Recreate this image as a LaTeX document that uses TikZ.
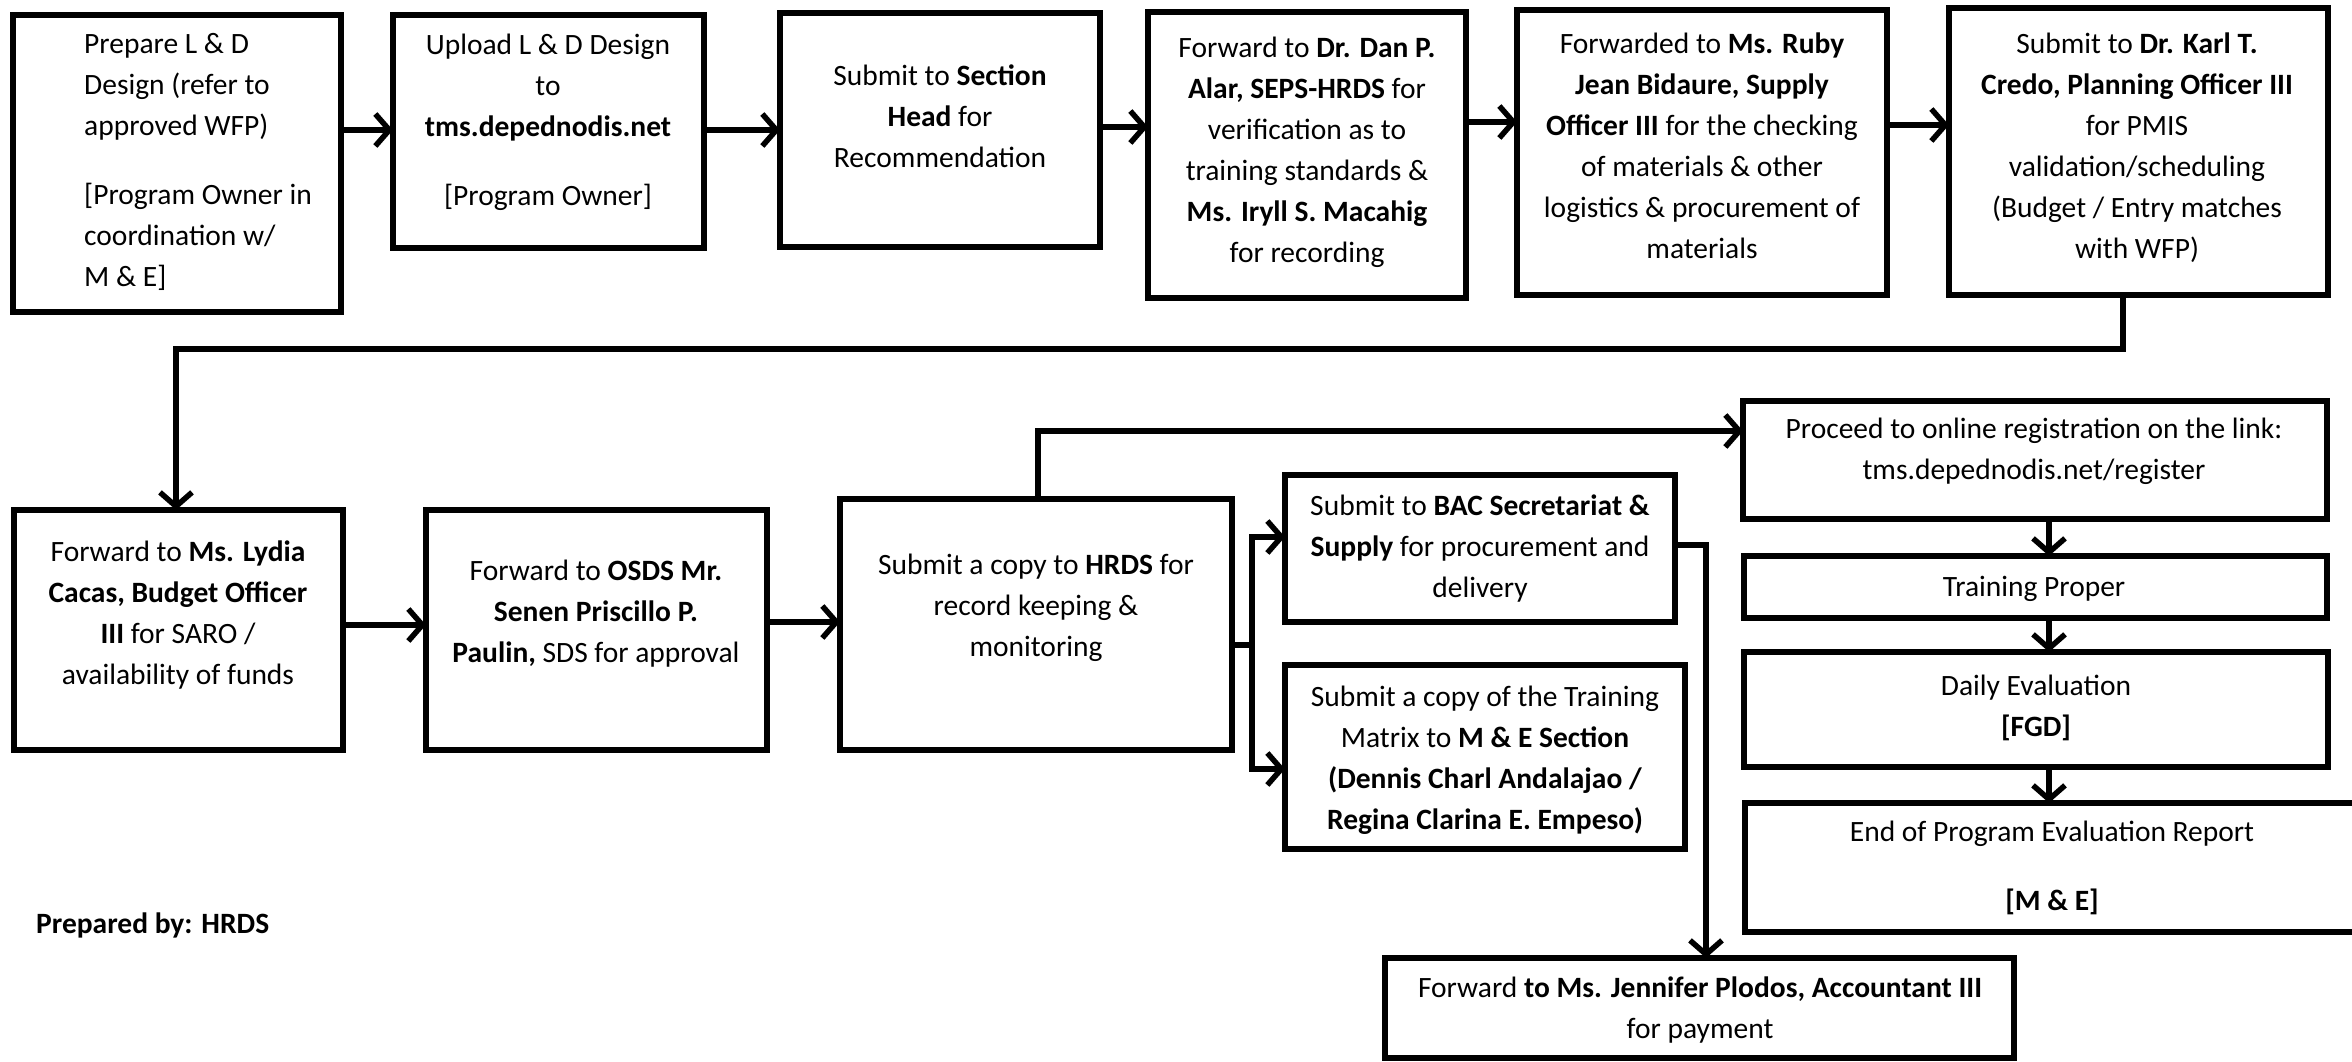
\documentclass[tikz,border=0pt]{standalone}
\usepackage{fontspec}
\setmainfont{Carlito}
\usetikzlibrary{arrows.meta}
\tikzset{
  box/.style={draw=black, line width=5.5pt, inner sep=0pt, outer sep=0pt, fill=white},
  txt/.style={inner sep=0pt, align=center, font=\fontsize{29.5}{41}\selectfont},
  conn/.style={draw=black, line width=5.5pt},
  arr/.style={conn, -{Straight Barb[length=14pt,width=32pt,line width=5.5pt]}}
}
\newcommand\bx[5]{\node[box, minimum width={#4-#2}, minimum height={#5-#3}] (#1) at ({(#2+#4)/2},{(#3+#5)/2}) {};}
\begin{document}
\begin{tikzpicture}[x=1pt,y=-1pt]
\useasboundingbox (0,0) rectangle (2352,1062);
\fill[white] (0,0) rectangle (2352,1062);
\clip (0,0) rectangle (2352,1062);
% row 1
\bx{B1}{13}{15}{341}{312}
\bx{B2}{393}{15}{704}{248}
\bx{B3}{780}{13}{1100}{247}
\bx{B4}{1148}{12}{1466}{298}
\bx{B5}{1517}{10}{1887}{295}
\bx{B6}{1949}{8}{2328}{295}
% row 2
\bx{B7}{14}{510}{343}{750}
\bx{B8}{426}{510}{767}{750}
\bx{B9}{840}{499}{1232}{750}
\bx{BAC}{1285}{475}{1675}{622}
\bx{Mat}{1285}{665}{1685}{849}
\bx{Jen}{1385}{958}{2014}{1058}
\bx{Proc}{1743}{401}{2327}{519}
\bx{Tr}{1744}{556}{2327}{618}
\bx{Daily}{1744}{652}{2328}{767}
\bx{End}{1745}{803}{2380}{932}
% texts
\node[txt, align=left, anchor=west] (t1) at (84,162) {Prepare L \& D\\Design (refer to\\approved WFP)\\[28pt]{[}Program Owner in\\coordination w/\\M \& E]};
\node[txt] (t2) at (548,122) {Upload L \& D Design\\to\\\textbf{tms.depednodis.net}\\[28pt]{[}Program Owner]};
\node[txt] (t3) at (940,116) {Submit to \textbf{Section}\\\textbf{Head} for\\Recommendation};
\node[txt] (t4) at (1307,152) {Forward to \textbf{Dr. Dan P.}\\\textbf{Alar, SEPS-HRDS} for\\verification as to\\training standards \&\\\textbf{Ms. Iryll S. Macahig}\\for recording};
\node[txt] (t5) at (1702,146) {Forwarded to \textbf{Ms. Ruby}\\\textbf{Jean Bidaure, Supply}\\\textbf{Officer III} for the checking\\of materials \& other\\logistics \& procurement of\\materials};
\node[txt] (t6) at (2137,148) {Submit to \textbf{Dr. Karl T.}\\\textbf{Credo, Planning Officer III}\\for PMIS\\validation/scheduling\\(Budget / Entry matches\\with WFP)};
\node[txt] (t7) at (178,615) {Forward to \textbf{Ms. Lydia}\\\textbf{Cacas, Budget Officer}\\\textbf{III} for SARO /\\availability of funds};
\node[txt] (t8) at (596,614) {Forward to \textbf{OSDS Mr.}\\\textbf{Senen Priscillo P.}\\\textbf{Paulin,} SDS for approval};
\node[txt] (t9) at (1036,608) {Submit a copy to \textbf{HRDS} for\\record keeping \&\\monitoring};
\node[txt] (tBAC) at (1480,549) {Submit to \textbf{BAC Secretariat \&}\\\textbf{Supply} for procurement and\\delivery};
\node[txt] (tMat) at (1485,760) {Submit a copy of the Training\\Matrix to \textbf{M \& E Section}\\\textbf{(Dennis Charl Andalajao /}\\\textbf{Regina Clarina E. Empeso)}};
\node[txt] (tJen) at (1700,1010) {Forward \textbf{to Ms. Jennifer Plodos, Accountant III}\\for payment};
\node[txt] (tProc) at (2034,451) {Proceed to online registration on the link:\\tms.depednodis.net/register};
\node[txt] (tTr) at (2034,589) {Training Proper};
\node[txt] (tDaily) at (2036,708) {Daily Evaluation\\\textbf{[FGD]}};
\node[txt] (tEnd) at (2052,868) {End of Program Evaluation Report\\[28pt]\textbf{[M \& E]}};
\node[txt, anchor=west, font=\fontsize{29.5}{41}\selectfont\bfseries] (prep) at (36,925) {Prepared by: HRDS};
% helper coordinates
\coordinate (loopR) at (2123,349);
\coordinate (loopL) at (176,349);
\coordinate (hrdsUp) at (1038,431);
\coordinate (br) at (1252,645);
\coordinate (bacR) at (1706,545);
\coordinate (vx) at (2049,0);
% row 1 arrows
\draw[arr] (B1.east |- 0,130) -- (B2.west |- 0,130);
\draw[arr] (B2.east |- 0,130) -- (B3.west |- 0,130);
\draw[arr] (B3.east |- 0,127) -- (B4.west |- 0,127);
\draw[arr] (B4.east |- 0,122) -- (B5.west |- 0,122);
\draw[arr] (B5.east |- 0,125) -- (B6.west |- 0,125);
% loop to row 2
\draw[arr] (B6.south -| loopR) -- (loopR) -- (loopL) -- (B7.north -| loopL);
% row 2 arrows
\draw[arr] (B7.east |- 0,625) -- (B8.west |- 0,625);
\draw[arr] (B8.east |- 0,622) -- (B9.west |- 0,622);
\draw[arr] (B9.north -| hrdsUp) -- (hrdsUp) -- (Proc.west |- hrdsUp);
\draw[conn] (B9.east |- br) -- (br);
\draw[arr] (br) |- (BAC.west |- 0,537);
\draw[arr] (br) |- (Mat.west |- 0,769);
\draw[arr] (BAC.east |- bacR) -- (bacR) -- (Jen.north -| bacR);
\draw[arr] (Proc.south -| vx) -- (Tr.north -| vx);
\draw[arr] (Tr.south -| vx) -- (Daily.north -| vx);
\draw[arr] (Daily.south -| vx) -- (End.north -| vx);
\end{tikzpicture}
\end{document}
